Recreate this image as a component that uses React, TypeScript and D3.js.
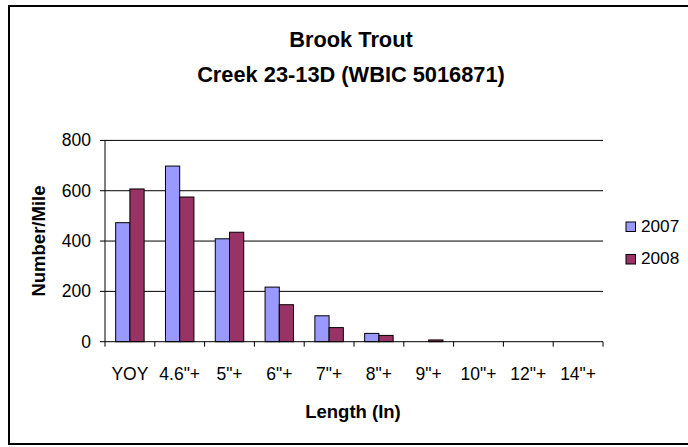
import React from "react";
import * as d3 from "d3";

const categories = ["YOY", '4.6"+', '5"+', '6"+', '7"+', '8"+', '9"+', '10"+', '12"+', '14"+'];
const series2007 = [473, 698, 409, 217, 103, 33, 0, 0, 0, 0];
const series2008 = [607, 575, 435, 147, 56, 25, 7, 0, 0, 0];
const seriesNames = ["2007", "2008"];
const seriesColors = ["#9999FF", "#993366"];
const yTicks = [0, 200, 400, 600, 800];

export default function App() {
  const W = 688, H = 447;
  const left = 105, right = 603, top = 140.4, bottom = 341.7;
  const x = d3.scaleBand<string>().domain(categories).range([left, right]);
  const y = d3.scaleLinear().domain([0, 800]).range([bottom, top]);
  const bw = x.bandwidth() / 3.5;
  const series = [series2007, series2008];
  const font = "Arial, 'Liberation Sans', sans-serif";
  return (
    <svg width={W} height={H} style={{ position: "absolute", left: 0, top: 0 }} fontFamily={font}>
      <rect x={0} y={0} width={W} height={H} fill="#fff" />
      <rect x={9} y={6} width={685} height={438} fill="#fff" stroke="#000" strokeWidth={2} />
      <text x={351} y={46.5} textAnchor="middle" fontSize={21.8} fontWeight="bold">Brook Trout</text>
      <text x={351} y={82} textAnchor="middle" fontSize={21.8} fontWeight="bold">Creek 23-13D (WBIC 5016871)</text>
      {yTicks.filter(t => t > 0).map(t => (
        <line key={t} x1={left} x2={right} y1={y(t)} y2={y(t)} stroke="#000" strokeWidth={1} />
      ))}
      {series.map((vals, si) =>
        vals.map((v, i) =>
          v > 0 ? (
            <rect key={`${si}-${i}`} x={(x(categories[i]) as number) + bw * 0.75 + si * bw} y={y(v)}
              width={bw} height={bottom - y(v)} fill={seriesColors[si]} stroke="#000" strokeWidth={1} />
          ) : null
        )
      )}
      <line x1={left} x2={left} y1={top} y2={bottom} stroke="#000" />
      <line x1={left} x2={right} y1={bottom} y2={bottom} stroke="#000" />
      {yTicks.map(t => (
        <g key={t}>
          <line x1={left - 5} x2={left} y1={y(t)} y2={y(t)} stroke="#000" />
          <text x={left - 14} y={y(t) + 6} textAnchor="end" fontSize={17.5}>{t}</text>
        </g>
      ))}
      {categories.concat(["end"]).map((c, i) => {
        const xx = left + i * x.step();
        return <line key={i} x1={xx} x2={xx} y1={bottom} y2={bottom + 5} stroke="#000" />;
      })}
      {categories.map(c => (
        <text key={c} x={(x(c) as number) + x.bandwidth() / 2} y={380} textAnchor="middle" fontSize={17.5}>{c}</text>
      ))}
      <text x={353} y={418} textAnchor="middle" fontSize={18.5} fontWeight="bold">Length (In)</text>
      <text transform={`translate(45,${(top + bottom) / 2}) rotate(-90)`} textAnchor="middle" fontSize={18.5} fontWeight="bold">Number/Mile</text>
      {seriesNames.map((n, i) => (
        <g key={n}>
          <rect x={626} y={222 + i * 32.5} width={9.5} height={9.5} fill={seriesColors[i]} stroke="#000" />
          <text x={641} y={231.7 + i * 32.5} fontSize={17.2}>{n}</text>
        </g>
      ))}
    </svg>
  );
}
